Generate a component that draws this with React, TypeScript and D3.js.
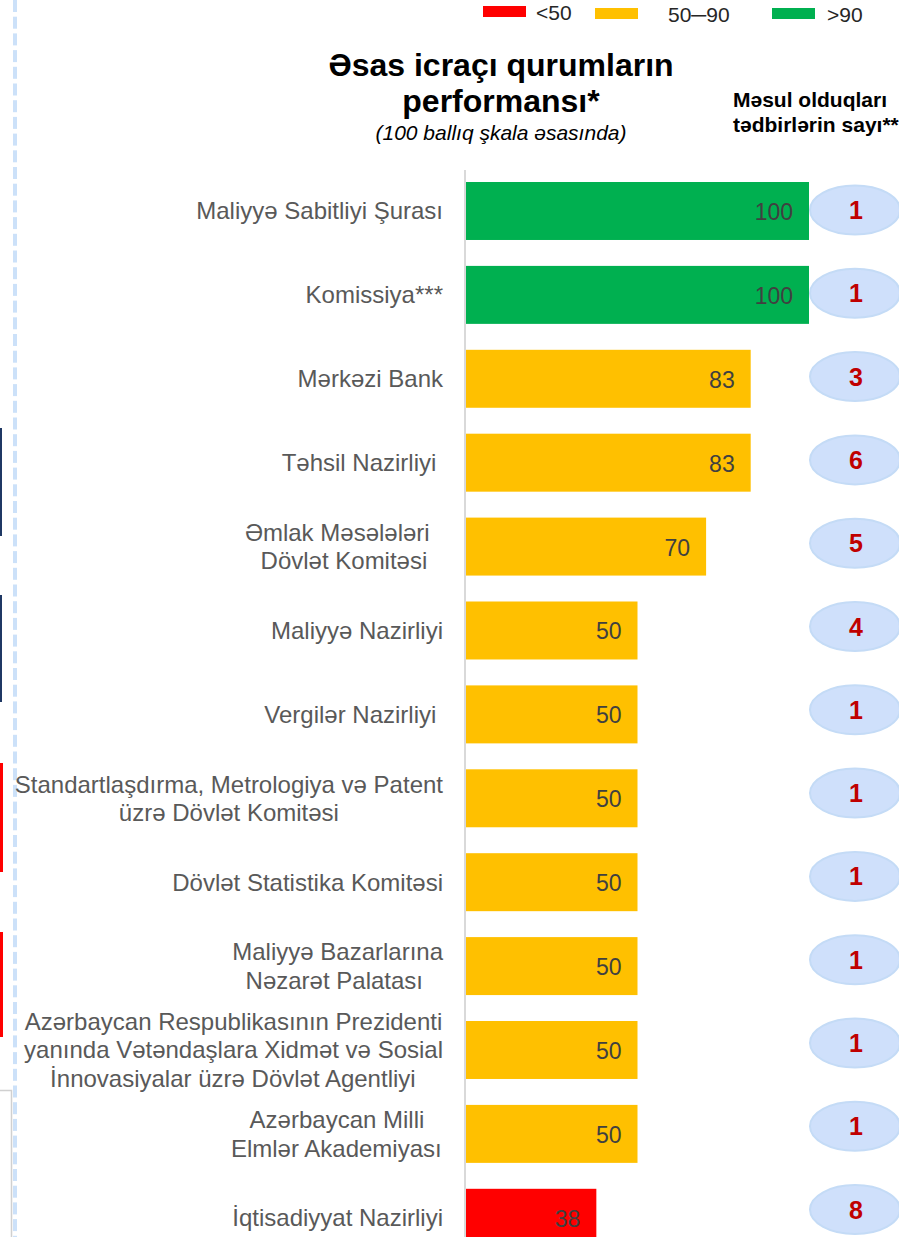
import React, { useMemo } from "react";
import * as d3 from "d3";

const categories: string[][] = [
  ["Maliyyə Sabitliyi Şurası"],
  ["Komissiya***"],
  ["Mərkəzi Bank"],
  ["Təhsil Nazirliyi "],
  ["Əmlak Məsələləri  ", "Dövlət Komitəsi"],
  ["Maliyyə Nazirliyi"],
  ["Vergilər Nazirliyi "],
  ["Standartlaşdırma, Metrologiya və Patent", "üzrə Dövlət Komitəsi"],
  ["Dövlət Statistika Komitəsi"],
  ["Maliyyə Bazarlarına", "Nəzarət Palatası "],
  ["Azərbaycan Respublikasının Prezidenti", "yanında Vətəndaşlara Xidmət və Sosial", "İnnovasiyalar üzrə Dövlət Agentliyi"],
  ["Azərbaycan Milli", "Elmlər Akademiyası"],
  ["İqtisadiyyat Nazirliyi"],
];
const scores: number[] = [100, 100, 83, 83, 70, 50, 50, 50, 50, 50, 50, 50, 38];
const measures: number[] = [1, 1, 3, 6, 5, 4, 1, 1, 1, 1, 1, 1, 8];
const legendLabels: string[] = ["<50", "50\u250090", ">90"];
const legendColors: string[] = ["#ff0000", "#ffc000", "#00b050"];
const titleLines: string[] = ["Əsas icraçı qurumların", "performansı*"];
const subtitle = "(100 ballıq şkala əsasında)";
const sideTitle: string[] = ["Məsul olduqları", "tədbirlərin sayı**"];

const FONT = "'Liberation Sans', Arial, sans-serif";
const LABEL_SIZE = 24;

function colorFor(v: number): string {
  if (v < 50) return legendColors[0];
  if (v <= 90) return legendColors[1];
  return legendColors[2];
}

export default function App() {
  const W = 899;
  const H = 1237;
  const keys = categories.map((c, i) => String(i));

  const x = d3.scaleLinear().domain([0, 100]).range([466, 809]);
  const step = 83.9;
  const y = d3
    .scaleBand<string>()
    .domain(keys)
    .range([182 - step * 0.1545, 182 - step * 0.1545 + step * keys.length])
    .paddingInner(0.309)
    .paddingOuter(0.1545);
  const bstep = 83.3;
  const yb = d3
    .scaleBand<string>()
    .domain(keys)
    .range([210 - bstep / 2, 210 - bstep / 2 + bstep * keys.length]);

  const measure = useMemo(() => {
    const c = document.createElement("canvas");
    const ctx = c.getContext("2d")!;
    ctx.font = `${LABEL_SIZE}px ${FONT}`;
    return (s: string) => ctx.measureText(s).width;
  }, []);

  const labelRight = 443;
  const lineH = 28.5;

  const dashes = d3.range(0, H, 16.7);

  return (
    <svg
      width={W}
      height={H}
      style={{ position: "absolute", left: 0, top: 0, background: "#fff", fontFamily: FONT }}
    >
      <rect width={W} height={H} fill="#fff" />
      {/* left edge decorations */}
      {dashes.map((d, i) => (
        <rect key={"d" + i} x={13} y={d} width={4} height={12} fill="#cce1f9" />
      ))}
      <line x1={1} x2={1} y1={428} y2={536} stroke="#1f3864" strokeWidth={2} />
      <line x1={1} x2={1} y1={595} y2={702} stroke="#1f3864" strokeWidth={2} />
      <rect x={0} y={763} width={3} height={109} fill="#ff0000" />
      <rect x={0} y={932} width={3} height={105} fill="#ff0000" />
      <path d={`M0,1090.5 H11.5 V${H}`} fill="none" stroke="#d0d0d0" strokeWidth={1.5} />

      {/* legend */}
      {legendLabels.map((l, i) => {
        const lx = [483, 595, 772][i];
        const tx = [536, 668, 827][i];
        const ly = i === 0 ? 6 : 8;
        return (
          <g key={"lg" + i}>
            <rect x={lx} y={ly} width={43} height={11} fill={legendColors[i]} />
            <text x={tx} y={ly + 14} fontSize={21} fill="#262626">
              {l}
            </text>
          </g>
        );
      })}

      {/* titles */}
      {titleLines.map((t, i) => (
        <text
          key={"t" + i}
          x={501}
          y={76 + i * 36}
          textAnchor="middle"
          fontSize={32}
          fontWeight="bold"
          fill="#000"
        >
          {t}
        </text>
      ))}
      <text x={501} y={140} textAnchor="middle" fontSize={21} fontStyle="italic" fill="#000">
        {subtitle}
      </text>
      {sideTitle.map((t, i) => (
        <text key={"s" + i} x={733} y={107 + i * 25} fontSize={21} fontWeight="bold" fill="#000">
          {t}
        </text>
      ))}

      {/* axis line */}
      <line x1={465} x2={465} y1={170} y2={H} stroke="#d9d9d9" strokeWidth={2} />

      {/* bars */}
      {keys.map((k, i) => {
        const v = scores[i];
        const by = y(k)!;
        const bh = y.bandwidth();
        return (
          <g key={"b" + k}>
            <rect x={x(0)} y={by} width={x(v) - x(0)} height={bh} fill={colorFor(v)} />
            <text
              x={x(v) - 16}
              y={by + bh / 2 + 9}
              textAnchor="end"
              fontSize={23}
              fill="#404040"
            >
              {v}
            </text>
          </g>
        );
      })}

      {/* category labels */}
      {keys.map((k, i) => {
        const lines = categories[i];
        const widths = lines.map(measure);
        const maxW = Math.max(...widths);
        const cx = labelRight - maxW / 2;
        const cy = y(k)! + y.bandwidth() / 2;
        const n = lines.length;
        return (
          <g key={"c" + k}>
            {lines.map((ln, j) => (
              <text
                key={j}
                x={cx - widths[j] / 2}
                y={cy + (j - (n - 1) / 2) * lineH + 8.5}
                fontSize={LABEL_SIZE}
                fill="#595959"
                style={{ whiteSpace: "pre" }}
              >
                {ln}
              </text>
            ))}
          </g>
        );
      })}

      {/* bubbles */}
      {keys.map((k, i) => {
        const cy = yb(k)! + yb.bandwidth() / 2;
        return (
          <g key={"m" + k}>
            <ellipse cx={855} cy={cy} rx={45} ry={24.5} fill="#cfe0fb" stroke="#c4dbf6" strokeWidth={2} />
            <text
              x={856}
              y={cy + 9}
              textAnchor="middle"
              fontSize={25}
              fontWeight="bold"
              fill="#c00000"
            >
              {measures[i]}
            </text>
          </g>
        );
      })}
    </svg>
  );
}
